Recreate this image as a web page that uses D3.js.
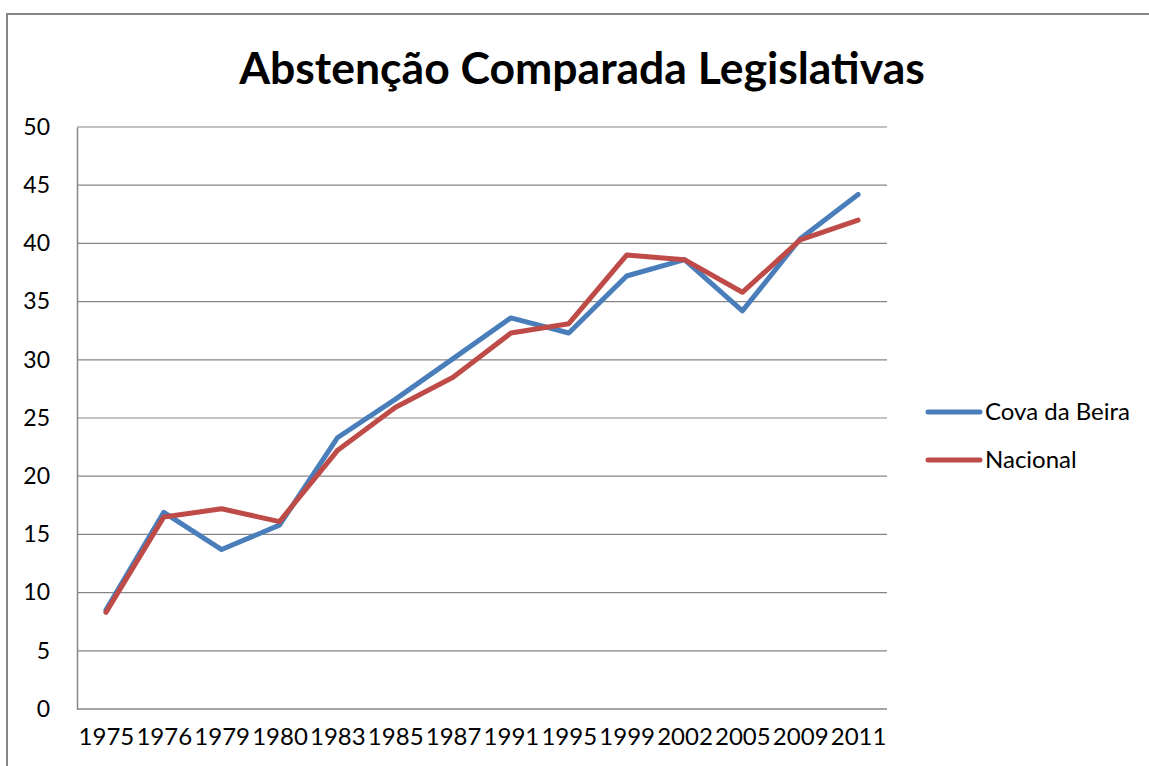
<!DOCTYPE html>
<html><head><meta charset="utf-8">
<script src="https://cdn.jsdelivr.net/npm/d3@7"></script>
<style>html,body{margin:0;padding:0;background:#fff;overflow:hidden}</style>
</head><body>
<svg id="c" width="1149" height="766"></svg>
<script>
const years = ["1975","1976","1979","1980","1983","1985","1987","1991","1995","1999","2002","2005","2009","2011"];
const covaDaBeira = [8.5, 16.9, 13.7, 15.8, 23.3, 26.6, 30.1, 33.6, 32.3, 37.2, 38.6, 34.2, 40.4, 44.2];
const nacional = [8.3, 16.5, 17.2, 16.1, 22.2, 25.9, 28.5, 32.3, 33.1, 39.0, 38.6, 35.8, 40.3, 42.0];
const yTicks = [0, 5, 10, 15, 20, 25, 30, 35, 40, 45, 50];
const seriesNames = ["Cova da Beira", "Nacional"];
const seriesColors = ["#4A7EBB", "#BE4B48"];

const svg = d3.select("#c");
const font = "Lato, 'Open Sans', sans-serif";
const L = 77, R = 887, T = 127, B = 709;

svg.append("rect").attr("x", 7).attr("y", 14).attr("width", 1160).attr("height", 780)
  .attr("fill", "#fff").attr("stroke", "#868686").attr("stroke-width", 2);

svg.append("text").attr("x", 582).attr("y", 84).attr("text-anchor", "middle")
  .attr("font-family", font).attr("font-weight", "bold").attr("font-size", 44.5)
  .attr("fill", "#000").text("Abstenção Comparada Legislativas");

const x = d3.scalePoint().domain(years).range([L, R]).padding(0.5);
const y = d3.scaleLinear().domain([0, 50]).range([B, T]);

// gridlines
svg.append("g").selectAll("line").data(yTicks.filter(d => d > 0)).join("line")
  .attr("x1", L).attr("x2", R).attr("y1", d => y(d)).attr("y2", d => y(d))
  .attr("stroke", "#868686").attr("stroke-width", 1.2);

// y axis
const ya = svg.append("g").attr("transform", `translate(${L},0)`)
  .call(d3.axisLeft(y).tickValues(yTicks).tickSize(0).tickPadding(27));
ya.select(".domain").attr("stroke", "#868686").attr("stroke-width", 1.5);
ya.selectAll("text").attr("font-family", font).attr("font-size", 23).attr("fill", "#000");

// x axis
const xa = svg.append("g").attr("transform", `translate(0,${B})`)
  .call(d3.axisBottom(x).tickSize(0).tickPadding(19));
xa.select(".domain").attr("stroke", "#868686").attr("stroke-width", 1.5)
  .attr("d", `M${L},0H${R}`);
xa.selectAll("text").attr("font-family", font).attr("font-size", 24).attr("fill", "#000");

const line = d3.line().x((d, i) => x(years[i])).y(d => y(d));
[covaDaBeira, nacional].forEach((s, k) => {
  svg.append("path").datum(s).attr("d", line).attr("fill", "none")
    .attr("stroke", seriesColors[k]).attr("stroke-width", 5)
    .attr("stroke-linejoin", "round").attr("stroke-linecap", "round");
});

// legend
const lg = svg.append("g");
seriesNames.forEach((n, i) => {
  const yy = 412 + i * 48;
  lg.append("line").attr("x1", 928).attr("x2", 980).attr("y1", yy).attr("y2", yy)
    .attr("stroke", seriesColors[i]).attr("stroke-width", 5).attr("stroke-linecap", "round");
  lg.append("text").attr("x", 985).attr("y", yy).attr("dy", "0.35em")
    .attr("font-family", font).attr("font-size", 24).attr("fill", "#000").text(n);
});
</script>
</body></html>
